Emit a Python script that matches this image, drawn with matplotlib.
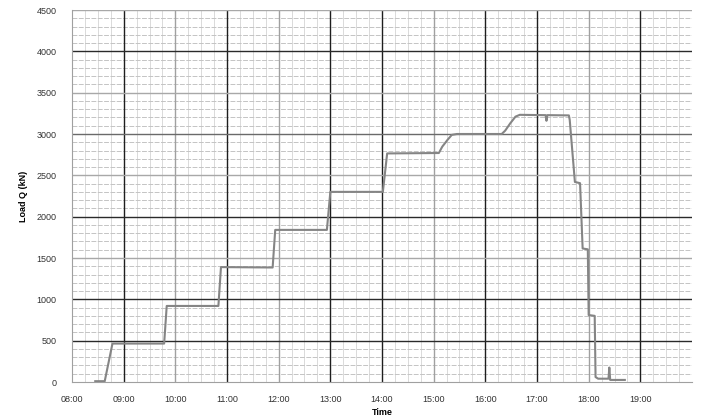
import numpy as np
import matplotlib
matplotlib.use('Agg')
import matplotlib.pyplot as plt
from matplotlib.ticker import MultipleLocator, FuncFormatter

plt.rcParams['font.family'] = ['Liberation Sans', 'DejaVu Sans']

# ================= data =================
times = ["08:27", "08:38", "08:47", "09:47", "09:50", "10:50", "10:53", "11:53",
         "11:56", "12:56", "13:00", "14:01", "14:06", "15:06", "15:10", "15:16",
         "15:21", "15:27", "16:19", "16:23", "16:29", "16:35", "16:40", "17:10",
         "17:11", "17:12", "17:37", "17:38", "17:44", "17:50", "17:53", "17:59",
         "18:00", "18:07", "18:08", "18:11", "18:23", "18:24", "18:25", "18:42"]
load_kn = [10, 10, 465, 465, 920, 920, 1390, 1385,
           1840, 1840, 2300, 2300, 2765, 2770, 2847, 2928,
           2989, 3000, 3000, 3040, 3130, 3210, 3232, 3228,
           3160, 3228, 3225, 3170, 2420, 2405, 1615, 1605,
           810, 800, 60, 40, 40, 175, 25, 25]

hour_ticks = list(range(8, 20))
faint_hours = [10, 12, 15, 18]
load_major = [0, 500, 1000, 1500, 2000, 2500, 3000, 3500, 4000, 4500]
faint_loads = [1500, 2500, 3500, 4500]


def to_hours(s):
    h, m = s.split(":")
    return int(h) + int(m) / 60.0


t = np.array([to_hours(s) for s in times])
q = np.array(load_kn)

fig = plt.figure(figsize=(7.01, 4.19), dpi=100)
ax = fig.add_axes([72 / 701, 1 - 382 / 419, 620 / 701, 372 / 419])

# minor grid
ax.xaxis.set_minor_locator(MultipleLocator(0.25))
ax.yaxis.set_minor_locator(MultipleLocator(100))
ax.grid(which='minor', axis='x', color='#dadada', lw=0.7)
ax.grid(which='minor', axis='y', color='#c4c4c4', lw=0.7, linestyle=(0, (5, 1.5)))

# major grid (some lines print lighter in the original)
for h in hour_ticks[1:]:
    ax.axvline(h, color='#a0a0a0' if h in faint_hours else '#1e1e1e', lw=1.0, zorder=1)
for v in load_major[1:]:
    c = '#a8a8a8' if v in faint_loads else '#2a2a2a'
    if v == 3000:
        c = '#6a6a6a'
    ax.axhline(v, color=c, lw=1.0, zorder=1)

ax.plot(t, q, color='#858585', lw=1.5, zorder=3)

ax.set_xlim(8, 20)
ax.set_ylim(0, 4500)
ax.set_xticks(hour_ticks)
ax.xaxis.set_major_formatter(FuncFormatter(lambda x, p: f"{int(round(x)):02d}:00"))
ax.set_yticks(load_major)
ax.tick_params(which='both', length=0, labelsize=6.5, colors='#333333')
ax.tick_params(axis='y', pad=11)
ax.tick_params(axis='x', pad=9)
ax.set_axisbelow(True)

for side in ['top', 'right']:
    ax.spines[side].set_visible(False)
for side in ['left', 'bottom']:
    ax.spines[side].set_color('#a0a0a0')
    ax.spines[side].set_linewidth(0.8)

ax.set_xlabel("Time", fontsize=6.5, fontweight='bold', labelpad=3)
ax.set_ylabel("Load Q (kN)", fontsize=6.5, fontweight='bold', labelpad=6)

fig.savefig("out.png", dpi=100)
